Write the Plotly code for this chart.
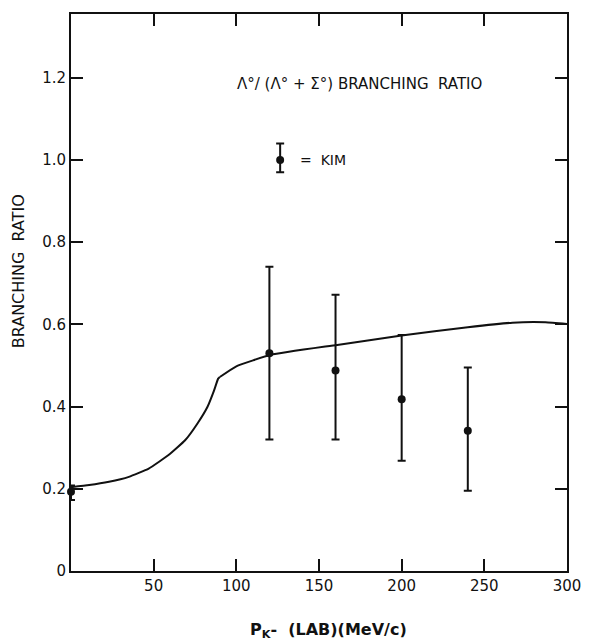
import plotly.graph_objects as go

# Theory curve (two branches meeting at the threshold cusp)
curve_lo_x = [0, 11, 23, 35, 47, 59, 69, 76.5, 82.5, 86.5, 89, 90]
curve_lo_y = [0.204, 0.209, 0.217, 0.229, 0.249, 0.282, 0.318, 0.359, 0.399, 0.439, 0.468, 0.472]
curve_hi_x = [90, 100, 121, 161, 200, 240, 267, 287, 300]
curve_hi_y = [0.472, 0.498, 0.526, 0.550, 0.573, 0.593, 0.604, 0.605, 0.601]

# KIM data points
kim_x = [0, 120, 160, 200, 240]
kim_y = [0.193, 0.530, 0.488, 0.418, 0.341]
kim_err_plus = [0.015, 0.210, 0.184, 0.156, 0.154]
kim_err_minus = [0.020, 0.210, 0.168, 0.150, 0.146]

# Legend symbol
legend_x = [126.5]
legend_y = [1.0]
legend_err_plus = [0.04]
legend_err_minus = [0.03]

x_ticks = [50, 100, 150, 200, 250, 300]
y_ticks = [0, 0.2, 0.4, 0.6, 0.8, 1.0, 1.2]
y_ticklabels = ["0", "0.2", "0.4", "0.6", "0.8", "1.0", "1.2"]

FONT = "DejaVu Sans"
BLACK = "#111111"

fig = go.Figure()
for cx, cy in [(curve_lo_x, curve_lo_y), (curve_hi_x, curve_hi_y)]:
    fig.add_trace(go.Scatter(x=cx, y=cy, mode="lines",
                             line=dict(color=BLACK, width=2, shape="spline", smoothing=0.4),
                             showlegend=False, hoverinfo="skip"))

for ex, ey, ep, em in [(kim_x, kim_y, kim_err_plus, kim_err_minus),
                       (legend_x, legend_y, legend_err_plus, legend_err_minus)]:
    fig.add_trace(go.Scatter(x=ex, y=ey, mode="markers",
                             marker=dict(color=BLACK, size=8),
                             error_y=dict(type="data", symmetric=False, array=ep, arrayminus=em,
                                          color=BLACK, thickness=2, width=4),
                             showlegend=False, cliponaxis=False))

fig.add_annotation(x=137, y=1.0, xref="x", yref="y", text="=  KIM", showarrow=False,
                   xanchor="left", yanchor="middle", font=dict(family=FONT, size=14, color=BLACK))
fig.add_annotation(x=174.6, y=1.185, xref="x", yref="y",
                   text="Λ°/ (Λ° + Σ°) BRANCHING  RATIO", showarrow=False,
                   xanchor="center", yanchor="middle", font=dict(family=FONT, size=15, color=BLACK))
fig.add_annotation(x=-0.107, y=0.538, xref="paper", yref="paper", text="BRANCHING  RATIO",
                   textangle=-90, showarrow=False, xanchor="center", yanchor="middle",
                   font=dict(family=FONT, size=16, color=BLACK))
fig.add_annotation(x=0.519, y=-0.106, xref="paper", yref="paper",
                   text="<b>P<sub>K</sub>-  (LAB)(MeV/c)</b>", showarrow=False,
                   xanchor="center", yanchor="middle", font=dict(family=FONT, size=16, color=BLACK))

axis_common = dict(showline=True, linecolor=BLACK, linewidth=2, mirror="allticks",
                   ticks="inside", ticklen=12, tickwidth=2, tickcolor=BLACK,
                   showgrid=False, zeroline=False,
                   tickfont=dict(family=FONT, size=15, color=BLACK))

fig.update_xaxes(range=[0, 300], tickvals=x_ticks, **axis_common)
fig.update_yaxes(range=[0, 1.355], tickvals=y_ticks, ticktext=y_ticklabels, **axis_common)

fig.update_layout(width=593, height=641, margin=dict(l=71, r=17, t=13, b=70),
                  paper_bgcolor="white", plot_bgcolor="white", showlegend=False,
                  font=dict(family=FONT, color=BLACK))

fig.write_html("out.html")
